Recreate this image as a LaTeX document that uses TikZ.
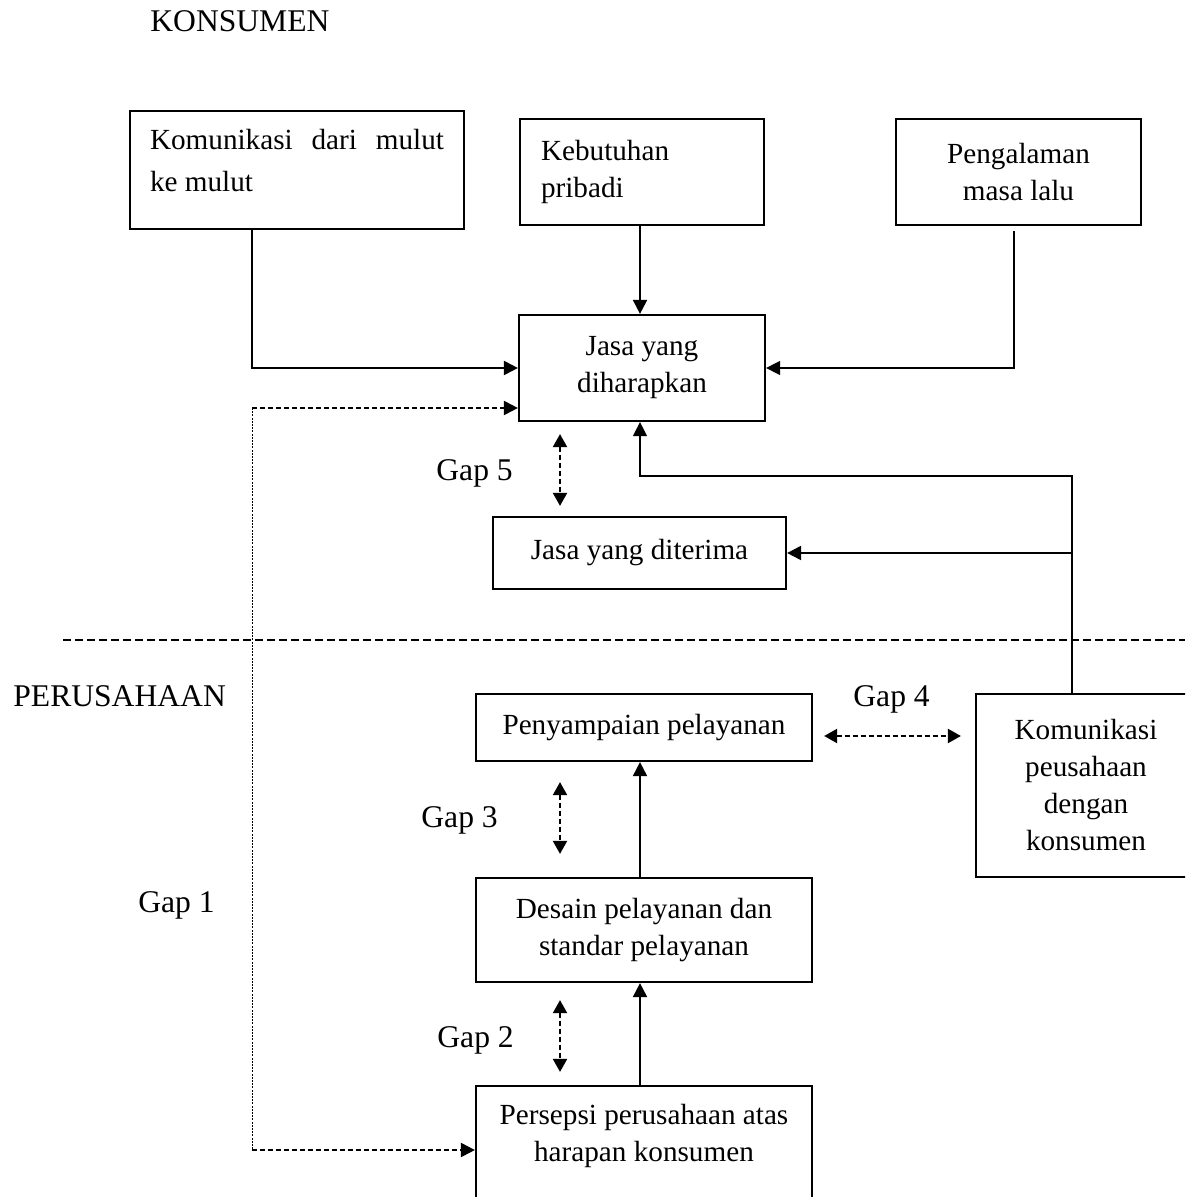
\documentclass[tikz,border=0pt]{standalone}
\usepackage{fontspec}
\setmainfont{Liberation Serif}
\usetikzlibrary{arrows.meta,positioning}

\newcommand{\boxfont}{\fontsize{14.6pt}{18.5pt}\selectfont}
\newcommand{\lblfont}{\fontsize{15.8pt}{19pt}\selectfont}

\tikzset{
  box/.style={draw, line width=1.1pt, inner sep=0pt, align=center, font=\boxfont},
  lbl/.style={inner sep=0pt, anchor=base west, font=\lblfont},
  conn/.style={line width=1pt, -{Triangle[length=7pt,width=7pt]}},
  dasharr/.style={line width=1pt, dash pattern=on 2.5pt off 1.5pt, -{Triangle[length=7pt,width=7pt]}},
  gaparr/.style={dasharr, {Triangle[length=6.5pt,width=7pt]}-{Triangle[length=6.5pt,width=7pt]}}
}

\begin{document}
\begin{tikzpicture}[x=0.5pt, y=-0.5pt]
\useasboundingbox (0,0) rectangle (1185,1197);
\clip (0,0) rectangle (1185,1197);

% konsumen
\node[lbl] (konsumen) at (150,32) {KONSUMEN};
\node[box, minimum width=167pt, minimum height=59pt] (mulut) at (297,170) {};
\node[inner sep=0pt, font=\fontsize{14.6pt}{21pt}\selectfont, text width=147pt, align=justify,
  below=9.5pt of mulut.north] (mulut text) {Komunikasi dari mulut ke mulut};
\node[box, minimum width=122pt, minimum height=53pt, text width=101pt, align=left] (butuh) at (642,172) {Kebutuhan\\pribadi};
\node[box, minimum width=122.5pt, minimum height=53pt] (alami) at (1018.5,172) {Pengalaman\\masa lalu};
\node[box, minimum width=123pt, minimum height=53pt] (harap) at (642,368) {Jasa yang\\diharapkan};
\node[box, minimum width=146.5pt, minimum height=36pt] (terima) at (639.5,553) {Jasa yang diterima};
\node[lbl] (gap5) at (436,480) {Gap 5};

\draw[line width=1pt, dash pattern=on 4pt off 2pt] (63,640) -- (1185,640);

% perusahaan
\node[lbl] (perusahaan) at (13,706) {PERUSAHAAN};
\node[box, minimum width=168pt, minimum height=33.5pt] (sampai) at (644,727.5) {Penyampaian pelayanan};
\node[box, minimum width=110pt, minimum height=91.5pt] (komper) at (1086,785.5) {Komunikasi\\peusahaan\\dengan\\konsumen};
\node[box, minimum width=168pt, minimum height=52pt] (desain) at (644,930) {Desain pelayanan dan\\standar pelayanan};
\node[box, minimum width=168pt, minimum height=72pt] (persepsi) at (644,1158) {};
\node[inner sep=0pt, font=\boxfont, align=center, below=9.5pt of persepsi.north] (persepsi text) {Persepsi perusahaan atas\\harapan konsumen};
\node[lbl] (gap4) at (853,706) {Gap 4};
\node[lbl] (gap3) at (421,827) {Gap 3};
\node[lbl] (gap2) at (437,1047) {Gap 2};
\node[lbl] (gap1) at (138,912) {Gap 1};

\coordinate (gx) at (560,0);
\coordinate (gtop) at (252,408);
\coordinate (gbot) at (252,1150);
\coordinate (hub) at (1072,476);

% connectors
\draw[conn] ([xshift=-22.5pt]mulut.south) |- (harap.west);
\draw[conn] ([xshift=-1pt]butuh.south) -- ([xshift=-1pt]harap.north);
\draw[conn, line width=0.6pt] ([xshift=-2.25pt,yshift=-2.5pt]alami.south) |- (harap.east);
\draw[dasharr] (gtop) -- (gtop -| harap.west);
\draw[line width=0.5pt, dash pattern=on 1pt off 0.6pt] (gtop) -- (gbot);
\draw[dasharr] (gbot) -- (gbot -| persepsi.west);
\draw[gaparr, shorten <=6pt, shorten >=5pt] (harap.south -| gx) -- (terima.north -| gx);
\draw[conn, line width=0.6pt] (komper.north -| hub) -- (hub) -| ([xshift=-1pt]harap.south);
\draw[conn] (hub |- terima.east) -- (terima.east);
\draw[gaparr, shorten <=5.5pt, shorten >=7pt] ([yshift=-4.25pt]sampai.east) -- ([yshift=-4.25pt]sampai.east -| komper.west);
\draw[gaparr, shorten <=10pt, shorten >=11.5pt] (sampai.south -| gx) -- (desain.north -| gx);
\draw[conn] ([xshift=-2pt]desain.north) -- ([xshift=-2pt]sampai.south);
\draw[gaparr, shorten <=8.5pt, shorten >=6.5pt] (desain.south -| gx) -- (persepsi.north -| gx);
\draw[conn] ([xshift=-2pt]persepsi.north) -- ([xshift=-2pt]desain.south);
\end{tikzpicture}
\end{document}
